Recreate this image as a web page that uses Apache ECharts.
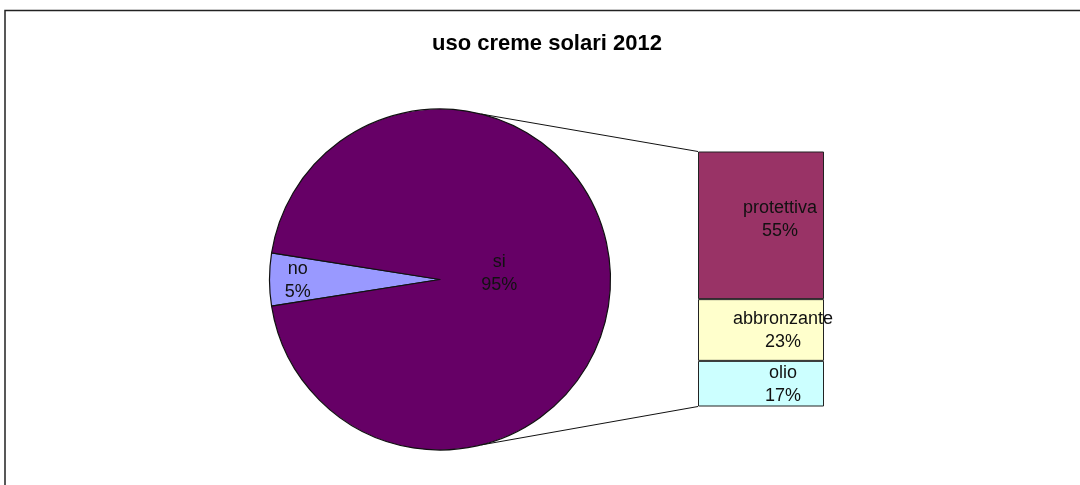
<!DOCTYPE html>
<html>
<head>
<meta charset="utf-8">
<script src="https://cdn.jsdelivr.net/npm/echarts@6/dist/echarts.min.js"></script>
<style>
html,body{margin:0;padding:0;background:#fff;}
#c{width:1080px;height:485px;}
</style>
</head>
<body>
<div id="c"></div>
<script>
// Data
var titleText = 'uso creme solari 2012';
var pieNames = ['no', 'si'];
var pieValues = [5, 95];
var barNames = ['olio', 'abbronzante', 'protettiva'];   // bottom -> top
var barValues = [17, 23, 55];

// Layout constants
var FONT = '"Liberation Sans", Arial, sans-serif';
var pieCenter = [440, 279.5];
var pieRadius = 170.5;
var gridBox = { left: 698, top: 151.5, width: 126, height: 255 };
var pieColors = ['#9999FF', '#660066'];
var barColors = ['#CCFFFF', '#FFFFCC', '#993366'];
var barLabelOffsets = [[22, 1], [22, 1], [19, -6]];
var pieLabelShift = [[-27, 0.5], [-14.5, -3]];

var chart = echarts.init(document.getElementById('c'), null, { renderer: 'canvas' });

var barTotal = barValues.reduce(function (a, b) { return a + b; }, 0);

var barSeries = barNames.map(function (n, i) {
  return {
    type: 'bar',
    name: n,
    stack: 'tot',
    barWidth: '100%',
    data: [barValues[i]],
    itemStyle: { color: barColors[i], borderColor: '#222', borderWidth: 1 },
    label: {
      show: true,
      position: 'inside',
      offset: barLabelOffsets[i],
      formatter: n + '\n' + barValues[i] + '%',
      color: '#111',
      fontFamily: FONT,
      fontSize: 18,
      lineHeight: 23,
      overflow: 'none'
    },
    silent: true
  };
});

var option = {
  backgroundColor: '#fff',
  animation: false,
  title: {
    text: titleText,
    left: 427,
    top: 28,
    textStyle: { fontFamily: FONT, fontSize: 22, fontWeight: 'bold', color: '#000' }
  },
  grid: { left: gridBox.left, top: gridBox.top, width: gridBox.width, height: gridBox.height },
  xAxis: { type: 'category', data: ['x'], show: false },
  yAxis: { type: 'value', min: 0, max: barTotal, show: false },
  series: [{
    type: 'pie',
    center: pieCenter,
    radius: pieRadius,
    startAngle: 189,
    clockwise: true,
    silent: true,
    data: pieNames.map(function (n, i) {
      return { name: n, value: pieValues[i], itemStyle: { color: pieColors[i] } };
    }),
    itemStyle: { borderColor: '#111', borderWidth: 1.2 },
    label: {
      show: true,
      position: 'inside',
      formatter: function (p) { return p.name + '\n' + p.value + '%'; },
      color: '#111',
      fontFamily: FONT,
      fontSize: 18,
      lineHeight: 23
    },
    labelLayout: function (p) {
      var s = pieLabelShift[p.dataIndex];
      return { dx: s[0], dy: s[1] };
    },
    emphasis: { disabled: true }
  }].concat(barSeries)
};
chart.setOption(option);

// connector lines from pie edge to bar corners (computed from geometry)
var topCorner = chart.convertToPixel({ gridIndex: 0 }, [0, barTotal]);
var botCorner = chart.convertToPixel({ gridIndex: 0 }, [0, 0]);
var leftX = gridBox.left;
var ang = 76 * Math.PI / 180;
var pTop = [pieCenter[0] + pieRadius * Math.cos(ang), pieCenter[1] - pieRadius * Math.sin(ang)];
var pBot = [pieCenter[0] + pieRadius * Math.cos(ang), pieCenter[1] + pieRadius * Math.sin(ang)];

chart.setOption({
  graphic: [
    { type: 'rect', shape: { x: 5, y: 10.5, width: 1100, height: 500 }, style: { fill: null, stroke: '#222', lineWidth: 1.5 }, silent: true, z: 100 },
    { type: 'line', shape: { x1: pTop[0], y1: pTop[1], x2: leftX, y2: topCorner[1] }, style: { stroke: '#111', lineWidth: 1 }, silent: true, z: 50 },
    { type: 'line', shape: { x1: pBot[0], y1: pBot[1], x2: leftX, y2: botCorner[1] }, style: { stroke: '#111', lineWidth: 1 }, silent: true, z: 50 }
  ]
});
</script>
</body>
</html>
